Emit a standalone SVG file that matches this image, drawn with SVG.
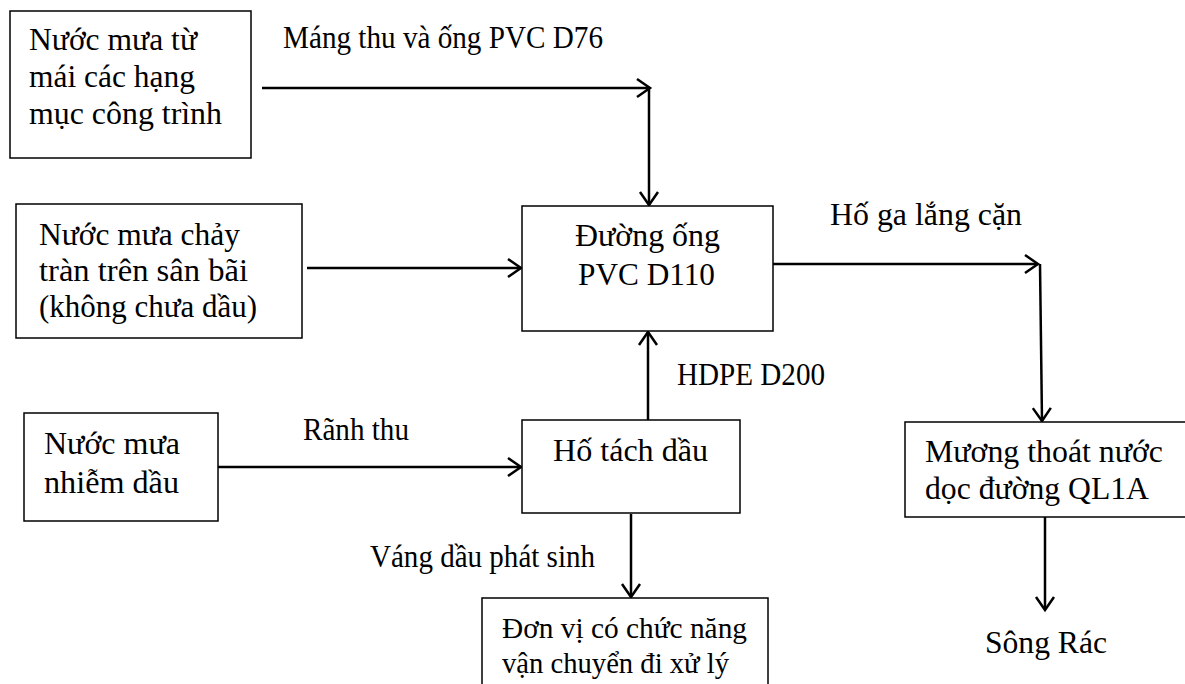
<svg xmlns="http://www.w3.org/2000/svg" width="1185" height="684" viewBox="0 0 1185 684">
<defs>
<style>
.box{fill:#fff;stroke:#000;stroke-width:1.5}
.t{font-family:"Liberation Serif","Times New Roman",serif;font-size:32px;fill:#000}
.s{font-size:29px}
.c{fill:none;stroke:#000;stroke-width:2.5}
</style>
<marker id="ah" markerUnits="userSpaceOnUse" markerWidth="18" markerHeight="22" refX="15" refY="11" orient="auto" viewBox="0 0 18 22">
<path d="M2,2 L15,11 L2,20" fill="none" stroke="#000" stroke-width="2.5"/>
</marker>
</defs>
<rect width="1185" height="684" fill="#fff"/>
<g id="connectors">
<line class="c" x1="262" y1="88" x2="650" y2="88" marker-end="url(#ah)"/>
<line class="c" x1="649" y1="88" x2="649" y2="205" marker-end="url(#ah)"/>
<line class="c" x1="307" y1="268" x2="521" y2="268" marker-end="url(#ah)"/>
<line class="c" x1="773" y1="264" x2="1038" y2="264" marker-end="url(#ah)"/>
<line class="c" x1="1040" y1="264" x2="1042" y2="421" marker-end="url(#ah)"/>
<line class="c" x1="1045" y1="517" x2="1045" y2="610" marker-end="url(#ah)"/>
<line class="c" x1="218" y1="467" x2="521" y2="467" marker-end="url(#ah)"/>
<line class="c" x1="648" y1="420" x2="648" y2="332" marker-end="url(#ah)"/>
<line class="c" x1="631" y1="514" x2="631" y2="597" marker-end="url(#ah)"/>
<text class="t" x="283" y="48" textLength="320" lengthAdjust="spacingAndGlyphs">Máng thu và ống PVC D76</text>
<text class="t" x="830" y="225" textLength="192" lengthAdjust="spacingAndGlyphs">Hố ga lắng cặn</text>
<text class="t" x="677" y="385" textLength="148" lengthAdjust="spacingAndGlyphs">HDPE D200</text>
<text class="t" x="303" y="440" textLength="106" lengthAdjust="spacingAndGlyphs">Rãnh thu</text>
<text class="t" x="370" y="567" textLength="225" lengthAdjust="spacingAndGlyphs">Váng dầu phát sinh</text>
</g>
<g id="n1">
<rect class="box" x="10" y="11" width="241" height="147"/>
<text class="t" x="29" y="50" textLength="168" lengthAdjust="spacingAndGlyphs">Nước mưa từ</text>
<text class="t" x="29" y="87" textLength="166" lengthAdjust="spacingAndGlyphs">mái các hạng</text>
<text class="t" x="29" y="124" textLength="193" lengthAdjust="spacingAndGlyphs">mục công trình</text>
</g>
<g id="n2">
<rect class="box" x="16" y="204" width="286" height="134"/>
<text class="t" x="39" y="245" textLength="201" lengthAdjust="spacingAndGlyphs">Nước mưa chảy</text>
<text class="t" x="39" y="281" textLength="209" lengthAdjust="spacingAndGlyphs">tràn trên sân bãi</text>
<text class="t" x="39" y="317" textLength="218" lengthAdjust="spacingAndGlyphs">(không chưa dầu)</text>
</g>
<g id="n3">
<rect class="box" x="522" y="206" width="251" height="125"/>
<text class="t" x="575" y="246" textLength="145" lengthAdjust="spacingAndGlyphs">Đường ống</text>
<text class="t" x="578" y="285" textLength="137" lengthAdjust="spacingAndGlyphs">PVC D110</text>
</g>
<g id="n4">
<rect class="box" x="24" y="413" width="194" height="108"/>
<text class="t" x="44" y="454" textLength="136" lengthAdjust="spacingAndGlyphs">Nước mưa</text>
<text class="t" x="44" y="493" textLength="135" lengthAdjust="spacingAndGlyphs">nhiễm dầu</text>
</g>
<g id="n5">
<rect class="box" x="522" y="420" width="218" height="93"/>
<text class="t" x="553" y="461" textLength="155" lengthAdjust="spacingAndGlyphs">Hố tách dầu</text>
</g>
<g id="n6">
<rect class="box" x="905" y="422" width="290" height="95"/>
<text class="t" x="925" y="462" textLength="238" lengthAdjust="spacingAndGlyphs">Mương thoát nước</text>
<text class="t" x="925" y="499" textLength="224" lengthAdjust="spacingAndGlyphs">dọc đường QL1A</text>
</g>
<g id="n7">
<rect class="box" x="482" y="598" width="286" height="100"/>
<text class="t s" x="502" y="638" textLength="245" lengthAdjust="spacingAndGlyphs">Đơn vị có chức năng</text>
<text class="t s" x="502" y="673" textLength="227" lengthAdjust="spacingAndGlyphs">vận chuyển đi xử lý</text>
</g>
<g id="n8">
<text class="t" x="985" y="653" textLength="122" lengthAdjust="spacingAndGlyphs">Sông Rác</text>
</g>
</svg>
